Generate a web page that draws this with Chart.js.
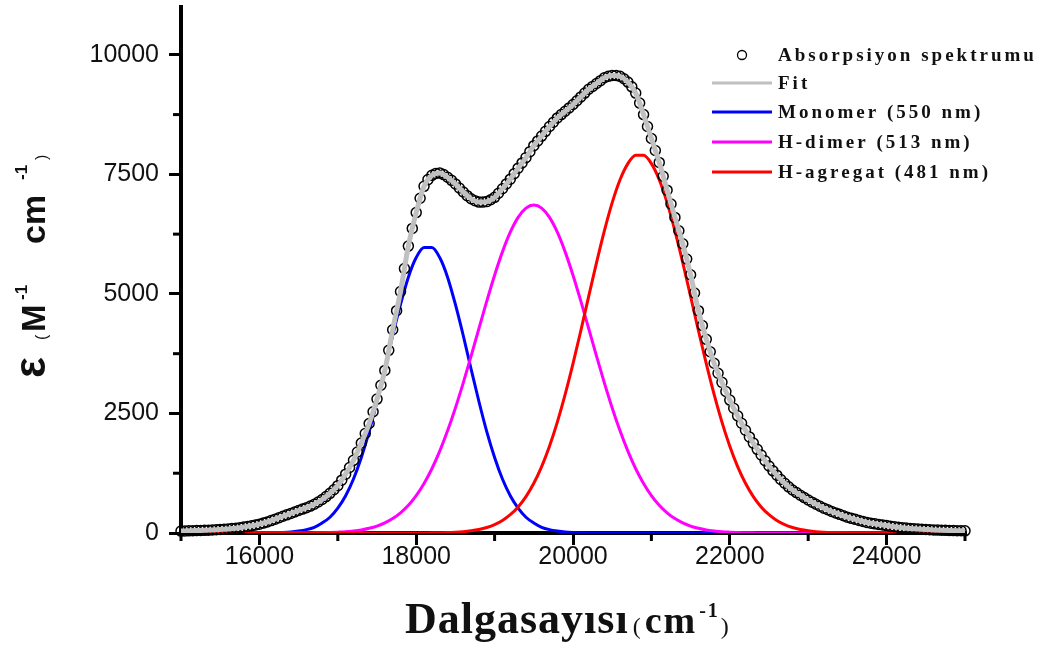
<!DOCTYPE html>
<html>
<head>
<meta charset="utf-8">
<script src="https://cdn.jsdelivr.net/npm/chart.js@4.4.0/dist/chart.umd.min.js"></script>
<style>
  html, body { margin: 0; padding: 0; background: #fff; }
</style>
</head>
<body>
<canvas id="specChart" width="1043" height="646"></canvas>
<script>
// wavenumbers of the measured spectrum (cm-1), every 50
const absWave = [
  15000, 15050, 15100, 15150, 15200, 15250, 15300, 15350, 15400, 15450,
  15500, 15550, 15600, 15650, 15700, 15750, 15800, 15850, 15900, 15950,
  16000, 16050, 16100, 16150, 16200, 16250, 16300, 16350, 16400, 16450,
  16500, 16550, 16600, 16650, 16700, 16750, 16800, 16850, 16900, 16950,
  17000, 17050, 17100, 17150, 17200, 17250, 17300, 17350, 17400, 17450,
  17500, 17550, 17600, 17650, 17700, 17750, 17800, 17850, 17900, 17950,
  18000, 18050, 18100, 18150, 18200, 18250, 18300, 18350, 18400, 18450,
  18500, 18550, 18600, 18650, 18700, 18750, 18800, 18850, 18900, 18950,
  19000, 19050, 19100, 19150, 19200, 19250, 19300, 19350, 19400, 19450,
  19500, 19550, 19600, 19650, 19700, 19750, 19800, 19850, 19900, 19950,
  20000, 20050, 20100, 20150, 20200, 20250, 20300, 20350, 20400, 20450,
  20500, 20550, 20600, 20650, 20700, 20750, 20800, 20850, 20900, 20950,
  21000, 21050, 21100, 21150, 21200, 21250, 21300, 21350, 21400, 21450,
  21500, 21550, 21600, 21650, 21700, 21750, 21800, 21850, 21900, 21950,
  22000, 22050, 22100, 22150, 22200, 22250, 22300, 22350, 22400, 22450,
  22500, 22550, 22600, 22650, 22700, 22750, 22800, 22850, 22900, 22950,
  23000, 23050, 23100, 23150, 23200, 23250, 23300, 23350, 23400, 23450,
  23500, 23550, 23600, 23650, 23700, 23750, 23800, 23850, 23900, 23950,
  24000, 24050, 24100, 24150, 24200, 24250, 24300, 24350, 24400, 24450,
  24500, 24550, 24600, 24650, 24700, 24750, 24800, 24850, 24900, 24950,
  25000
];
const absValues = [
  40, 42, 45, 47, 50, 52, 55, 60, 65, 70,
  75, 80, 85, 92, 100, 112, 125, 137, 150, 167,
  185, 207, 230, 260, 290, 320, 350, 380, 410, 440,
  470, 500, 530, 563, 600, 648, 700, 762, 830, 905,
  990, 1105, 1230, 1370, 1520, 1695, 1880, 2080, 2290, 2535,
  2800, 3090, 3400, 3820, 4250, 4650, 5050, 5530, 6000, 6370,
  6700, 7000, 7250, 7390, 7480, 7520, 7530, 7495, 7440, 7375,
  7300, 7215, 7130, 7055, 6990, 6950, 6920, 6920, 6930, 6970,
  7020, 7105, 7200, 7300, 7400, 7515, 7630, 7740, 7850, 7975,
  8100, 8200, 8300, 8400, 8500, 8590, 8680, 8750, 8820, 8890,
  8960, 9040, 9120, 9200, 9280, 9340, 9400, 9460, 9520, 9550,
  9570, 9570, 9550, 9500, 9430, 9330, 9200, 8990, 8750, 8500,
  8250, 8000, 7750, 7460, 7170, 6880, 6600, 6320, 6050, 5730,
  5400, 5020, 4650, 4340, 4050, 3790, 3550, 3340, 3150, 2960,
  2780, 2610, 2450, 2295, 2150, 2010, 1880, 1750, 1630, 1510,
  1400, 1300, 1210, 1120, 1040, 965, 900, 845, 790, 740,
  690, 645, 600, 560, 520, 485, 450, 420, 390, 360,
  330, 307, 285, 262, 240, 222, 205, 192, 180, 167,
  155, 142, 130, 120, 110, 102, 95, 90, 85, 80,
  75, 70, 65, 61, 58, 55, 52, 50, 48, 46,
  45
];

// wavenumbers of the fit and the three bands, every 100
const compWave = [
  15000, 15100, 15200, 15300, 15400, 15500, 15600, 15700, 15800, 15900,
  16000, 16100, 16200, 16300, 16400, 16500, 16600, 16700, 16800, 16900,
  17000, 17100, 17200, 17300, 17400, 17500, 17600, 17700, 17800, 17900,
  18000, 18100, 18200, 18300, 18400, 18500, 18600, 18700, 18800, 18900,
  19000, 19100, 19200, 19300, 19400, 19500, 19600, 19700, 19800, 19900,
  20000, 20100, 20200, 20300, 20400, 20500, 20600, 20700, 20800, 20900,
  21000, 21100, 21200, 21300, 21400, 21500, 21600, 21700, 21800, 21900,
  22000, 22100, 22200, 22300, 22400, 22500, 22600, 22700, 22800, 22900,
  23000, 23100, 23200, 23300, 23400, 23500, 23600, 23700, 23800, 23900,
  24000, 24100, 24200, 24300, 24400, 24500, 24600, 24700, 24800, 24900,
  25000
];
const fitValues = [
  40, 45, 50, 55, 65, 75, 85, 100, 125, 150,
  185, 230, 290, 350, 410, 470, 530, 600, 700, 830,
  990, 1230, 1520, 1880, 2290, 2800, 3400, 4250, 5050, 6000,
  6700, 7250, 7480, 7530, 7440, 7300, 7130, 6990, 6920, 6930,
  7020, 7200, 7400, 7630, 7850, 8100, 8300, 8500, 8680, 8820,
  8960, 9120, 9280, 9400, 9520, 9570, 9550, 9430, 9200, 8750,
  8250, 7750, 7170, 6600, 6050, 5400, 4650, 4050, 3550, 3150,
  2780, 2450, 2150, 1880, 1630, 1400, 1210, 1040, 900, 790,
  690, 600, 520, 450, 390, 330, 285, 240, 205, 180,
  155, 130, 110, 95, 85, 75, 65, 58, 52, 48,
  45
];
const monomerValues = [
  0, 0, 0, 0, 0, 0, 0, 0, 0, 0,
  0, 0, 5, 10, 20, 40, 70, 120, 210, 330,
  520, 780, 1130, 1580, 2120, 2750, 3430, 4130, 4780, 5350,
  5760, 5970, 5970, 5760, 5350, 4780, 4130, 3430, 2750, 2120,
  1580, 1130, 780, 520, 330, 210, 120, 70, 40, 20,
  10, 5, 0, 0, 0, 0, 0, 0, 0, 0,
  0, 0, 0, 0, 0, 0, 0, 0, 0, 0,
  0, 0, 0, 0, 0, 0, 0, 0, 0, 0,
  0, 0, 0, 0, 0, 0, 0, 0, 0, 0,
  0, 0, 0, 0, 0, 0, 0, 0, 0, 0,
  0
];
const dimerValues = [
  0, 0, 0, 0, 0, 0, 0, 0, 0, 0,
  0, 0, 0, 0, 0, 0, 0, 3, 6, 10,
  17, 26, 42, 64, 98, 145, 211, 301, 423, 581,
  783, 1036, 1344, 1711, 2136, 2615, 3140, 3700, 4277, 4848,
  5391, 5879, 6290, 6600, 6794, 6860, 6794, 6600, 6290, 5879,
  5391, 4848, 4277, 3700, 3140, 2615, 2136, 1711, 1344, 1036,
  783, 581, 423, 301, 211, 145, 98, 64, 42, 26,
  17, 10, 6, 3, 0, 0, 0, 0, 0, 0,
  0, 0, 0, 0, 0, 0, 0, 0, 0, 0,
  0, 0, 0, 0, 0, 0, 0, 0, 0, 0,
  0
];
const agregatValues = [
  0, 0, 0, 0, 0, 0, 0, 0, 0, 0,
  0, 0, 0, 0, 0, 0, 0, 0, 0, 0,
  0, 0, 0, 0, 0, 0, 0, 0, 0, 0,
  0, 0, 3, 6, 10, 17, 28, 46, 73, 115,
  175, 262, 382, 545, 761, 1040, 1389, 1815, 2320, 2899,
  3542, 4233, 4947, 5655, 6320, 6910, 7387, 7724, 7898, 7898,
  7724, 7387, 6910, 6320, 5655, 4947, 4233, 3542, 2899, 2320,
  1815, 1389, 1040, 761, 545, 382, 262, 175, 115, 73,
  46, 28, 17, 10, 6, 3, 0, 0, 0, 0,
  0, 0, 0, 0, 0, 0, 0, 0, 0, 0,
  0
];

const seriesNames = ['Absorpsiyon spektrumu', 'Fit', 'Monomer (550 nm)', 'H-dimer (513 nm)', 'H-agregat (481 nm)'];
const xTickValues = [15000, 16000, 17000, 18000, 19000, 20000, 21000, 22000, 23000, 24000, 25000];
const xTickLabels = [16000, 18000, 20000, 22000, 24000];
const yTickValues = [0, 1250, 2500, 3750, 5000, 6250, 7500, 8750, 10000];
const yTickLabels = [0, 2500, 5000, 7500, 10000];

const pairs = (xs, ys) => xs.map((v, i) => ({ x: v, y: ys[i] }));

// minor ticks (shorter) drawn by hand, majors by chart.js
const minorTicks = {
  id: 'minorTicks',
  afterDraw(chart) {
    const { ctx, chartArea: a, scales: { x, y } } = chart;
    ctx.save();
    ctx.strokeStyle = '#000';
    ctx.lineWidth = 3;
    x.ticks.forEach(t => {
      if (xTickLabels.includes(t.value)) return;
      const px = x.getPixelForValue(t.value);
      ctx.beginPath(); ctx.moveTo(px, a.bottom); ctx.lineTo(px, a.bottom + 8); ctx.stroke();
    });
    y.ticks.forEach(t => {
      if (yTickLabels.includes(t.value)) return;
      const py = y.getPixelForValue(t.value);
      ctx.beginPath(); ctx.moveTo(a.left, py); ctx.lineTo(a.left - 8, py); ctx.stroke();
    });
    ctx.restore();
  }
};

// axis titles with super scripts + legend inside the plot
const titlesAndLegend = {
  id: 'titlesAndLegend',
  afterDraw(chart) {
    const ctx = chart.ctx;
    ctx.save();
    ctx.fillStyle = '#111';
    ctx.textBaseline = 'alphabetic';

    // x title
    let cx = 405;
    ctx.font = 'bold 44px "Liberation Serif"';
    ctx.letterSpacing = '1px';
    ctx.fillText('Dalgasayısı', cx, 633);
    cx += ctx.measureText('Dalgasayısı').width + 4;
    ctx.letterSpacing = '0px';
    ctx.font = '24px "Liberation Serif"';
    ctx.fillText('(', cx, 634);
    cx += ctx.measureText('(').width + 4;
    ctx.font = 'bold 38px "Liberation Serif"';
    ctx.letterSpacing = '2px';
    ctx.fillText('cm', cx, 633);
    cx += ctx.measureText('cm').width + 2;
    ctx.font = 'bold 20px "Liberation Serif"';
    ctx.fillText('-1', cx, 617);
    cx += ctx.measureText('-1').width + 1;
    ctx.letterSpacing = '0px';
    ctx.font = '24px "Liberation Serif"';
    ctx.fillText(')', cx, 634);

    // y title, rotated
    ctx.save();
    ctx.translate(45, 378);
    ctx.rotate(-Math.PI / 2);
    ctx.font = 'bold 44px "Liberation Sans"';
    ctx.fillText('ε', 0, 0);
    ctx.font = '16px "Liberation Sans"';
    ctx.fillText('(', 38, 2);
    ctx.font = 'bold 33px "Liberation Sans"';
    ctx.fillText('M', 46, 0);
    ctx.font = 'bold 17px "Liberation Sans"';
    ctx.fillText('-1', 78, -18);
    ctx.font = 'bold 34px "Liberation Sans"';
    ctx.fillText('cm', 134, 0);
    ctx.font = 'bold 17px "Liberation Sans"';
    ctx.fillText('-1', 198, -18);
    ctx.font = '16px "Liberation Sans"';
    ctx.fillText(')', 218, 2);
    ctx.restore();

    // legend
    const rows = [55, 83, 112, 142, 172];
    const ds = chart.data.datasets;
    ctx.textBaseline = 'middle';
    ctx.font = 'bold 19px "Liberation Serif"';
    ctx.letterSpacing = '3px';
    rows.forEach((ry, i) => {
      if (i === 0) {
        ctx.beginPath();
        ctx.arc(742, ry, 4.5, 0, Math.PI * 2);
        ctx.strokeStyle = '#000';
        ctx.lineWidth = 1.3;
        ctx.stroke();
      } else {
        ctx.beginPath();
        ctx.moveTo(712, ry);
        ctx.lineTo(772, ry);
        ctx.strokeStyle = ds[i].borderColor;
        ctx.lineWidth = 3;
        ctx.stroke();
      }
      ctx.fillStyle = '#111';
      ctx.fillText(seriesNames[i], 778, ry + 1);
    });
    ctx.restore();
  }
};

const tickFont = { family: '"Liberation Sans", Arial, sans-serif', size: 25 };

new Chart(document.getElementById('specChart'), {
  type: 'line',
  data: {
    datasets: [
      {
        label: seriesNames[0],
        data: pairs(absWave, absValues),
        showLine: false,
        pointStyle: 'circle',
        pointRadius: 5,
        pointBorderWidth: 1.5,
        pointBorderColor: '#000',
        pointBackgroundColor: 'rgba(255,255,255,0)',
        order: 1,
        clip: 8
      },
      {
        label: seriesNames[1],
        data: pairs(compWave, fitValues),
        borderColor: '#c0c0c0',
        borderWidth: 5,
        pointRadius: 0,
        cubicInterpolationMode: 'monotone',
        order: 0
      },
      {
        label: seriesNames[2],
        data: pairs(compWave, monomerValues),
        borderColor: '#0000ff',
        borderWidth: 3,
        pointRadius: 0,
        cubicInterpolationMode: 'monotone',
        order: 4
      },
      {
        label: seriesNames[3],
        data: pairs(compWave, dimerValues),
        borderColor: '#ff00ff',
        borderWidth: 3,
        pointRadius: 0,
        cubicInterpolationMode: 'monotone',
        order: 3
      },
      {
        label: seriesNames[4],
        data: pairs(compWave, agregatValues),
        borderColor: '#ff0000',
        borderWidth: 3,
        pointRadius: 0,
        cubicInterpolationMode: 'monotone',
        order: 2
      }
    ]
  },
  options: {
    responsive: false,
    animation: false,
    layout: { padding: { top: 7, right: 78, left: 0, bottom: 0 } },
    plugins: {
      legend: { display: false },
      tooltip: { enabled: false }
    },
    scales: {
      x: {
        type: 'linear',
        min: 15000,
        max: 25000,
        afterFit: s => { s.height = 113; s.paddingLeft = 0; s.paddingRight = 0; },
        afterBuildTicks: s => { s.ticks = xTickValues.map(v => ({ value: v })); },
        border: { display: true, color: '#000', width: 4 },
        grid: {
          drawOnChartArea: false,
          drawTicks: true,
          tickLength: 12,
          lineWidth: 3,
          color: c => (c.tick && xTickLabels.includes(c.tick.value)) ? '#000' : 'rgba(0,0,0,0)'
        },
        ticks: {
          autoSkip: false,
          maxRotation: 0,
          padding: -3,
          color: '#111',
          font: tickFont,
          callback: v => xTickLabels.includes(v) ? String(v) : ''
        }
      },
      y: {
        type: 'linear',
        min: 0,
        max: 11000,
        afterFit: s => { s.width = 181; s.paddingTop = 0; s.paddingBottom = 0; },
        afterBuildTicks: s => { s.ticks = yTickValues.map(v => ({ value: v })); },
        border: { display: true, color: '#000', width: 4 },
        grid: {
          drawOnChartArea: false,
          drawTicks: true,
          tickLength: 12,
          lineWidth: 3,
          color: c => (c.tick && yTickLabels.includes(c.tick.value)) ? '#000' : 'rgba(0,0,0,0)'
        },
        ticks: {
          autoSkip: false,
          padding: 10,
          color: '#111',
          font: tickFont,
          callback: v => yTickLabels.includes(v) ? String(v) : ''
        }
      }
    }
  },
  plugins: [minorTicks, titlesAndLegend]
});
</script>
</body>
</html>
